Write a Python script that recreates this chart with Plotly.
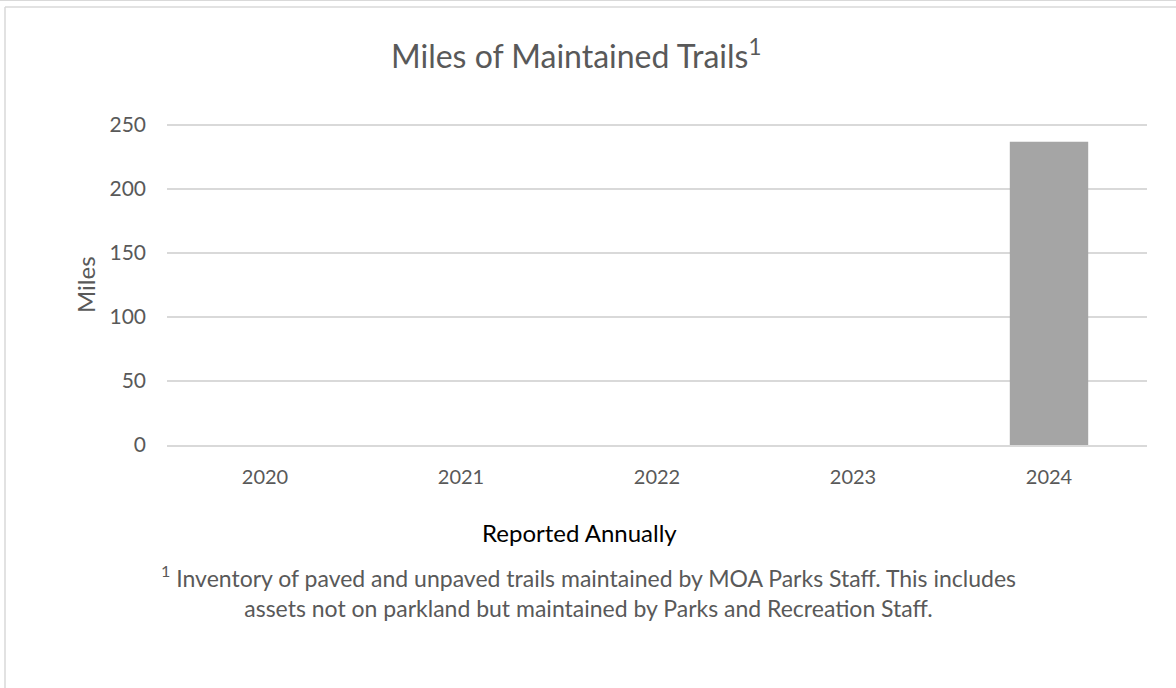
import plotly.graph_objects as go

years = ["2020", "2021", "2022", "2023", "2024"]
miles = [None, None, None, None, 237]
y_ticks = [0, 50, 100, 150, 200, 250]

FONT = "Lato"
GRAY = "#595959"

L, R, T, B = 167, 29, 120, 243
W, H = 1176, 688
pw = W - L - R
ph = H - T - B

def px(x):
    return (x - L) / pw

def py(y):
    return (H - B - y) / ph

fig = go.Figure()
fig.add_trace(go.Bar(x=years, y=miles, marker=dict(color="#A5A5A5", line=dict(width=0)),
                     width=0.4, hoverinfo="x+y"))

fig.update_layout(
    width=W, height=H,
    margin=dict(l=L, r=R, t=T, b=B, pad=0),
    paper_bgcolor="white", plot_bgcolor="white",
    showlegend=False,
    font=dict(family=FONT, color=GRAY, size=20),
    xaxis=dict(type="category", showgrid=False, zeroline=False, showline=True,
               linecolor="#D9D9D9", linewidth=1.5,
               ticks="", tickfont=dict(size=20, color=GRAY), ticklabelstandoff=13),
    yaxis=dict(range=[0, 253.9], tickvals=y_ticks, showgrid=True, gridcolor="#D9D9D9",
               gridwidth=1.5, zeroline=False, showline=False, ticks="",
               tickfont=dict(size=21, color=GRAY), ticklabelstandoff=20),
    annotations=[
        dict(text="Miles of Maintained Trails<sup>1</sup>", x=px(576), y=py(54),
             xref="paper", yref="paper", showarrow=False, xanchor="center", yanchor="middle",
             font=dict(size=32, color=GRAY, family=FONT)),
        dict(text="Miles", x=px(85), y=py(285), xref="paper", yref="paper", showarrow=False,
             textangle=-90, xanchor="center", yanchor="middle",
             font=dict(size=24, color=GRAY, family=FONT)),
        dict(text="Reported Annually", x=px(579), y=py(532), xref="paper", yref="paper",
             showarrow=False, xanchor="center", yanchor="middle",
             font=dict(size=24, color="black", family=FONT)),
        dict(text="<sup>1</sup> Inventory of paved and unpaved trails maintained by MOA Parks Staff. This includes<br>"
                  "assets not on parkland but maintained by Parks and Recreation Staff.",
             x=px(588), y=py(591), xref="paper", yref="paper", showarrow=False,
             xanchor="center", yanchor="middle", align="center",
             font=dict(size=23, color=GRAY, family=FONT)),
    ],
    shapes=[
        dict(type="line", xref="paper", yref="paper", x0=px(5), x1=px(1176), y0=py(7), y1=py(7),
             line=dict(color="#D9D9D9", width=1.5)),
        dict(type="line", xref="paper", yref="paper", x0=px(5), x1=px(5), y0=py(7), y1=py(690),
             line=dict(color="#D9D9D9", width=1.5)),
        dict(type="line", xref="paper", yref="paper", x0=px(0), x1=px(1176), y0=py(0.5), y1=py(0.5),
             line=dict(color="#D9D9D9", width=1)),
    ],
)

fig.write_html("out.html", config={"displayModeBar": False},
               post_script="document.body.style.margin='0';document.body.style.overflow='hidden';")
